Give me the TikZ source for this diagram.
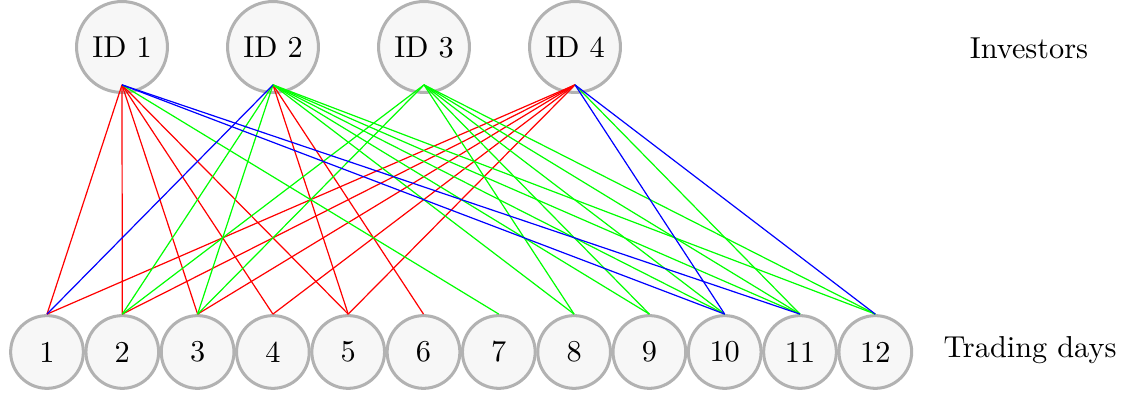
\documentclass[tikz,border=0pt]{standalone}
\begin{document}
\begin{tikzpicture}[x=0.33pt,y=-0.33pt,
  inv/.style={circle, draw=black!30, fill=black!3, line width=1pt, minimum size=30pt, inner sep=0pt},
  day/.style={circle, draw=black!30, fill=black!3, line width=1pt, minimum size=24pt, inner sep=0pt},
  lbl/.style={inner sep=0pt},
  ed/.style={line width=0.4pt}]
\useasboundingbox (0,0) rectangle (1129,394);
% investors
\foreach \i in {1,...,4} {
  \node[inv] (I\i) at ({122+151*(\i-1)},47) {ID \i};
  \coordinate (a\i) at ([yshift=-12.5pt]I\i.center);
}
% trading days
\foreach \k in {1,...,12} {
  \node[day] (d\k) at ({47+75.3*(\k-1)},352) {\k};
}
\node[lbl] (inlab) at (1029,48) {Investors};
\node[lbl] (tdlab) at (1030,350) {Trading days};
% red edges
\foreach \s/\t in {1/1,1/2,1/3,1/4,1/5,2/5,2/6,4/1,4/2,4/3,4/4,4/5}
  \draw[ed,red] (a\s) -- (d\t.north);
% green edges
\foreach \s/\t in {1/7,2/2,2/3,2/8,2/9,2/10,2/11,2/12,3/2,3/3,3/8,3/9,3/10,3/11,3/12,4/11}
  \draw[ed,green] (a\s) -- (d\t.north);
% blue edges
\foreach \s/\t in {1/10,1/11,2/1,4/10,4/12}
  \draw[ed,blue] (a\s) -- (d\t.north);
\end{tikzpicture}
\end{document}
